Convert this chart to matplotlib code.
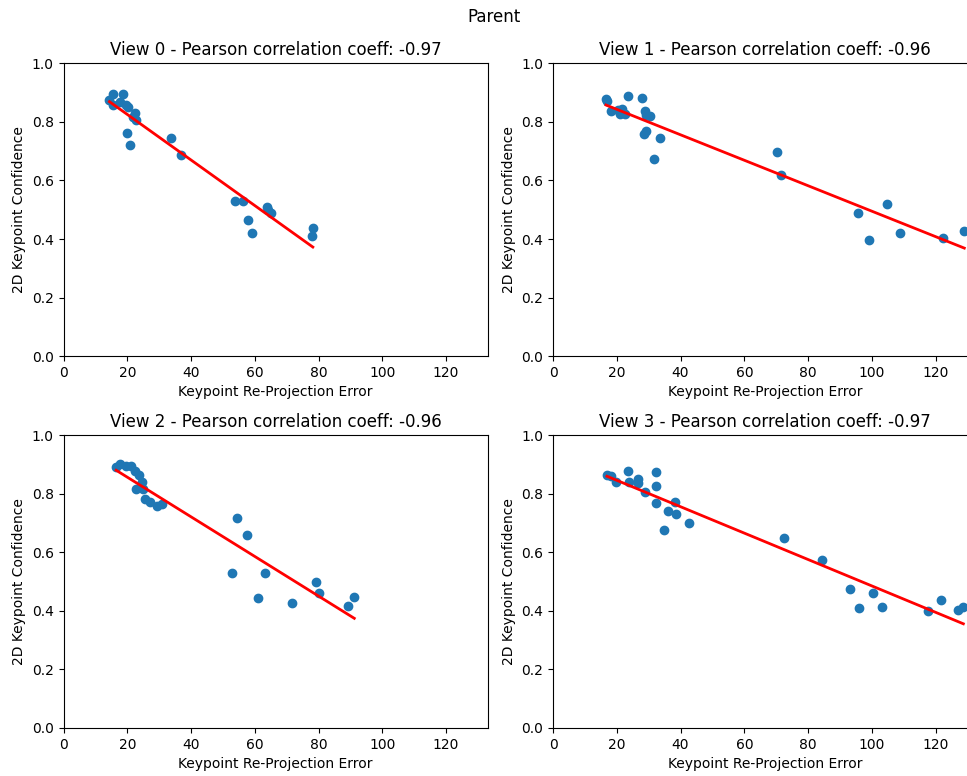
import matplotlib
matplotlib.use("Agg")
import matplotlib.pyplot as plt
import numpy as np

# keypoint re-projection error vs 2D keypoint confidence, per view
view0_err = [14.4, 15.5, 15.5, 18.6, 17.6, 19.6, 20.1, 22.3, 21.7, 22.8, 19.8, 20.9,
             33.8, 36.9, 53.9, 56.2, 57.8, 59.1, 63.7, 65.1, 64.0, 78.2, 77.8]
view0_conf = [0.876, 0.896, 0.857, 0.896, 0.868, 0.857, 0.851, 0.830, 0.817, 0.808, 0.762, 0.720,
              0.746, 0.686, 0.530, 0.530, 0.464, 0.419, 0.510, 0.489, 0.500, 0.436, 0.411]

view1_err = [16.6, 16.9, 18.2, 20.9, 21.6, 20.3, 22.7, 23.5, 27.9, 28.7, 29.2, 30.5, 28.6, 29.2,
             33.7, 31.8, 70.4, 71.6, 95.6, 99.2, 104.6, 108.9, 122.4, 129.0]
view1_conf = [0.879, 0.871, 0.836, 0.828, 0.845, 0.842, 0.826, 0.890, 0.883, 0.836, 0.823, 0.820, 0.760, 0.768,
              0.746, 0.672, 0.696, 0.618, 0.489, 0.395, 0.520, 0.419, 0.405, 0.429]

view2_err = [16.5, 17.6, 19.7, 21.2, 22.3, 23.6, 24.7, 22.6, 24.9, 25.4, 27.2, 29.4, 30.9,
             54.3, 57.7, 52.7, 63.3, 61.1, 71.7, 79.1, 80.1, 89.1, 91.2]
view2_conf = [0.893, 0.901, 0.897, 0.895, 0.878, 0.866, 0.840, 0.817, 0.817, 0.783, 0.772, 0.758, 0.767,
              0.718, 0.660, 0.531, 0.531, 0.443, 0.427, 0.498, 0.460, 0.417, 0.446]

view3_err = [16.9, 18.3, 19.8, 23.4, 23.7, 26.5, 26.5, 29.0, 32.4, 32.2, 32.2, 34.7, 36.2, 38.4, 38.7,
             42.8, 72.3, 84.4, 93.3, 95.9, 100.5, 103.3, 117.6, 121.7, 127.1, 128.7]
view3_conf = [0.864, 0.861, 0.841, 0.878, 0.841, 0.852, 0.838, 0.807, 0.874, 0.826, 0.769, 0.675, 0.742, 0.773, 0.732,
              0.702, 0.651, 0.573, 0.474, 0.409, 0.460, 0.412, 0.401, 0.439, 0.404, 0.415]

pearson = [-0.97, -0.96, -0.96, -0.97]

errors = [view0_err, view1_err, view2_err, view3_err]
confs = [view0_conf, view1_conf, view2_conf, view3_conf]

fig = plt.figure(figsize=(9.67, 7.76), dpi=100)
fig.suptitle("Parent", x=0.511, y=0.99)

# axes placed by hand; right column runs past the canvas edge like the reference
lefts = [0.0657, 0.5719]
bottoms = [0.5412, 0.0619]
w, h = 0.4385, 0.377

for view in range(4):
    row, col = divmod(view, 2)
    ax = fig.add_axes([lefts[col], bottoms[row], w, h])
    x = np.array(errors[view])
    y = np.array(confs[view])
    ax.scatter(x, y)
    m, b = np.polyfit(x, y, 1)
    xs = np.sort(x)
    ax.plot(xs, m * xs + b, "r-", linewidth=2)
    ax.set_xlim(0, 133)
    ax.set_ylim(0, 1)
    ax.set_title(f"View {view} - Pearson correlation coeff: {pearson[view]:.2f}")
    ax.set_xlabel("Keypoint Re-Projection Error")
    ax.set_ylabel("2D Keypoint Confidence")

fig.savefig("out.png", dpi=100)
